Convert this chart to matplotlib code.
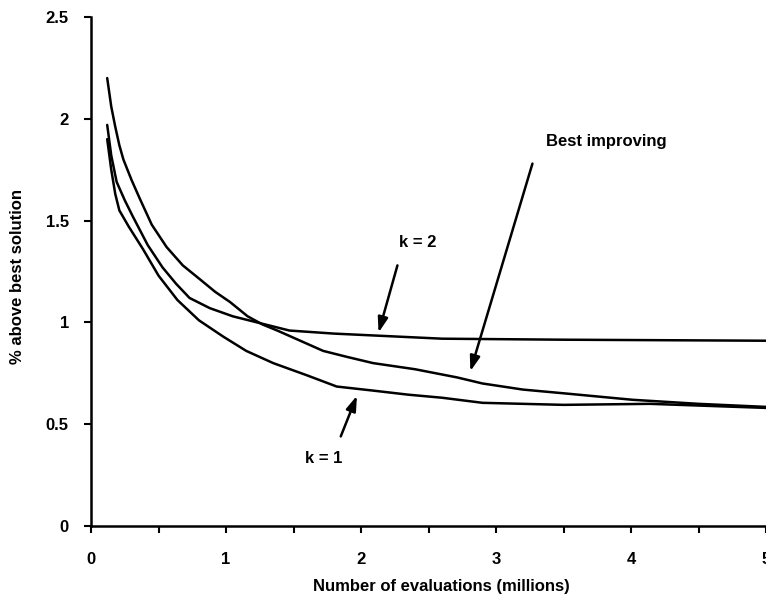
import matplotlib
matplotlib.use("Agg")
import matplotlib.pyplot as plt

plt.rcParams['font.family'] = ['Liberation Sans', 'DejaVu Sans']
plt.rcParams['font.weight'] = 'bold'

# evaluations (millions) vs % above best solution
best_x = [0.12, 0.15, 0.18, 0.21, 0.24, 0.30, 0.36, 0.45, 0.56, 0.68, 0.81, 0.92, 1.03, 1.16,
          1.27, 1.38, 1.55, 1.72, 1.9, 2.09, 2.4, 2.71, 2.9, 3.2, 3.53, 4.01, 4.5, 5.0]
best_y = [2.20, 2.06, 1.96, 1.87, 1.80, 1.70, 1.61, 1.48, 1.37, 1.28, 1.21, 1.15, 1.10, 1.03,
          0.99, 0.96, 0.91, 0.86, 0.83, 0.80, 0.77, 0.73, 0.70, 0.67, 0.65, 0.62, 0.60, 0.585]

k2_x = [0.12, 0.15, 0.19, 0.25, 0.31, 0.42, 0.53, 0.63, 0.73, 0.88, 1.05, 1.23, 1.47, 1.8,
        2.12, 2.6, 3.5, 5.0]
k2_y = [1.97, 1.82, 1.69, 1.60, 1.52, 1.38, 1.27, 1.19, 1.12, 1.07, 1.03, 1.00, 0.96, 0.945,
        0.935, 0.92, 0.915, 0.91]

k1_x = [0.12, 0.15, 0.18, 0.21, 0.28, 0.385, 0.5, 0.64, 0.8, 0.98, 1.15, 1.35, 1.6, 1.82,
        2.09, 2.35, 2.6, 2.9, 3.5, 4.14, 5.0]
k1_y = [1.90, 1.75, 1.63, 1.55, 1.47, 1.36, 1.23, 1.11, 1.01, 0.93, 0.86, 0.80, 0.74, 0.685,
        0.665, 0.645, 0.63, 0.605, 0.595, 0.60, 0.58]

x_ticks = [0, 1, 2, 3, 4, 5]
y_ticks = [0, 0.5, 1, 1.5, 2, 2.5]

fig = plt.figure(figsize=(7.66, 6.01), dpi=100)
ax = fig.add_axes([91 / 766, 75 / 601, 675 / 766, 509 / 601])

for xs, ys in [(k1_x, k1_y), (k2_x, k2_y), (best_x, best_y)]:
    ax.plot(xs, ys, color='black', lw=1.8, solid_joinstyle='round', solid_capstyle='round')

ax.set_xlim(0, 5)
ax.set_ylim(0, 2.5)
ax.set_xticks(x_ticks)
ax.set_xticks([0.5, 1.5, 2.5, 3.5, 4.5], minor=True)
ax.set_yticks(y_ticks)
ax.set_xticklabels([str(t) for t in x_ticks])
ax.set_yticklabels(['0', '0.5', '1', '1.5', '2', '2.5'])

for side in ['top', 'right']:
    ax.spines[side].set_visible(False)
for side in ['left', 'bottom']:
    ax.spines[side].set_linewidth(1.8)

ax.tick_params(axis='x', which='both', direction='out', length=5, width=1.5, pad=14, labelsize=12)
ax.tick_params(axis='y', direction='out', length=5, width=1.5, pad=11, labelsize=12)

ax.set_xlabel('Number of evaluations (millions)', fontsize=12, fontweight='bold')
ax.xaxis.set_label_coords(0.519, -0.105)
ax.set_ylabel('% above best solution', fontsize=12, fontweight='bold')
ax.yaxis.set_label_coords(-0.098, 0.49)

arrow = dict(arrowstyle='-|>,head_length=0.9,head_width=0.3', color='black', lw=1.8, shrinkA=0, shrinkB=0)
ax.annotate('', xy=(2.13, 0.95), xytext=(2.27, 1.28), arrowprops=arrow)
ax.text(2.42, 1.39, 'k = 2', ha='center', va='center', fontsize=12, fontweight='bold')

ax.annotate('', xy=(1.97, 0.64), xytext=(1.85, 0.44), arrowprops=arrow)
ax.text(1.72, 0.33, 'k = 1', ha='center', va='center', fontsize=12, fontweight='bold')

ax.annotate('', xy=(2.81, 0.76), xytext=(3.27, 1.78), arrowprops=arrow)
ax.text(3.82, 1.89, 'Best improving', ha='center', va='center', fontsize=12, fontweight='bold')

fig.savefig('out.png', dpi=100)
